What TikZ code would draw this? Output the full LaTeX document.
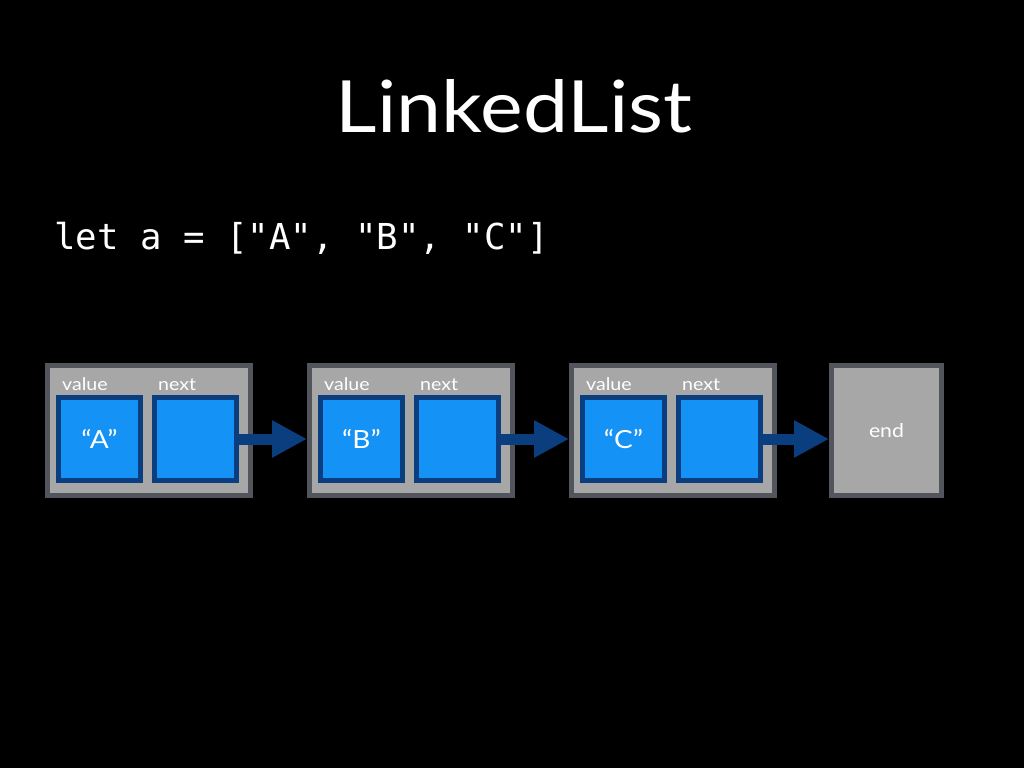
\documentclass[tikz,border=0pt]{standalone}
\usepackage{fontspec}
\setmainfont{Lato}[FakeStretch=1.12]
\setmonofont{DejaVu Sans Mono}
\usetikzlibrary{arrows.meta}
\definecolor{outerline}{HTML}{52565C}
\definecolor{outerfill}{HTML}{A7A7A7}
\definecolor{innerline}{HTML}{0B3E7E}
\definecolor{innerfill}{HTML}{1592F5}
\tikzset{
  outerbox/.style={draw=outerline, fill=outerfill, line width=5pt, inner sep=0pt, minimum width=203pt, minimum height=130pt},
  innerbox/.style={draw=innerline, fill=innerfill, line width=5pt, inner sep=0pt, minimum width=82pt, minimum height=83pt, text=white, font=\fontsize{25}{30}\selectfont},
  fieldlabel/.style={text=white, anchor=base west, inner sep=0pt, font=\fontsize{17.5}{21}\selectfont},
  linkarrow/.style={draw=innerline, line width=11pt, -{Triangle[length=35pt,width=35pt]}, shorten >=0pt}
}
\begin{document}
\begin{tikzpicture}[x=1pt,y=-1pt]
\useasboundingbox[fill=black] (0,0) rectangle (1024,768);
\node[text=white, font=\fontsize{72}{80}\selectfont] (title) at (514,106) {LinkedList};
\node[text=white, anchor=west, inner sep=0pt, font=\ttfamily\fontsize{35.7}{40}\selectfont] (code) at (54,238) {let a = ["A", "B", "C"]};
% box 1
\node[outerbox] (b1) at (149,430.5) {};
\node[innerbox] (v1) at (99.5,439) {“A”};
\node[innerbox] (n1) at (195.5,439) {};
\node[fieldlabel] (l1v) at (62,390) {value};
\node[fieldlabel] (l1n) at (158,390) {next};
% box 2
\node[outerbox] (b2) at (411,430.5) {};
\node[innerbox] (v2) at (361.5,439) {“B”};
\node[innerbox] (n2) at (457.5,439) {};
\node[fieldlabel] (l2v) at (324,390) {value};
\node[fieldlabel] (l2n) at (420,390) {next};
% box 3
\node[outerbox] (b3) at (673,430.5) {};
\node[innerbox] (v3) at (623.5,439) {“C”};
\node[innerbox] (n3) at (719.5,439) {};
\node[fieldlabel] (l3v) at (586,390) {value};
\node[fieldlabel] (l3n) at (682,390) {next};
% end
\node[outerbox, minimum width=110pt, text=white, font=\fontsize{19}{23}\selectfont] (e) at (886.5,430.5) {end};
% arrows
\draw[linkarrow] (n1.east) -- (n1.east -| b2.west);
\draw[linkarrow] (n2.east) -- (n2.east -| b3.west);
\draw[linkarrow] (n3.east) -- (n3.east -| e.west);
\end{tikzpicture}
\end{document}
